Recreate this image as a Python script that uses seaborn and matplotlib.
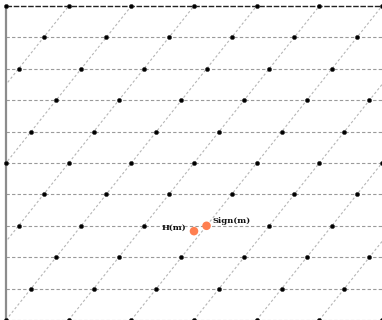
import numpy as np
import pandas as pd
import matplotlib
matplotlib.use("Agg")
import matplotlib.pyplot as plt
import seaborn as sns

# Lattice: horizontal rows at integer heights, each row shifted by a fixed offset
row_levels = list(range(0, 11))          # y of each lattice row
row_shift = 0.4                          # horizontal offset gained per row
column_index = list(range(-5, 8))        # integer steps along the rows
x_range = [0, 6]
y_range = [0, 10]

# Highlighted points
labels = ["H(m)", "Sign(m)"]
label_x = [3.0, 3.2]
label_y = [2.83, 3.0]

sns.set_theme(style="white")
plt.rcParams["font.family"] = ["DejaVu Serif", "DejaVu Sans"]

fig = plt.figure(figsize=(3.82, 3.20), dpi=100)
ax = fig.add_axes([6 / 382, 0, 376 / 382, 314 / 320])
ax.set_xlim(*x_range)
ax.set_ylim(*y_range)
ax.axis("off")

# Lattice points inside the view
pts = []
for y in row_levels:
    for k in column_index:
        x = k + (row_shift * y) % 1.0
        if x_range[0] - 1e-6 <= x <= x_range[1] + 0.02:
            pts.append((x, y))
lattice = pd.DataFrame(pts, columns=["x", "y"])

# Diagonal lines through the lattice points
yy = np.array(y_range, dtype=float)
for k in range(-5, 8):
    ax.plot(k + row_shift * yy, yy, color="#b5b5b5", lw=0.8,
            ls=(0, (2.2, 2.0)), zorder=1)

# Horizontal rows
for y in row_levels[:-1]:
    ax.plot(x_range, [y, y], color="#9a9a9a", lw=0.8,
            ls=(0, (3, 2)), zorder=2)
ax.plot(x_range, [y_range[1]] * 2, color="#222222", lw=1.0,
        ls=(0, (4, 1.2)), zorder=3, clip_on=False)

# Left boundary
ax.plot([0, 0], y_range, color="#8c8c8c", lw=1.6, zorder=3, clip_on=False)

sc = sns.scatterplot(data=lattice, x="x", y="y", ax=ax, color="black",
                     s=9, edgecolor="#333333", linewidth=0.4, zorder=4,
                     legend=False)
for coll in ax.collections:
    coll.set_clip_on(False)

special = pd.DataFrame({"x": label_x, "y": label_y, "label": labels})
sns.scatterplot(data=special, x="x", y="y", ax=ax, color="#ff7f50",
                s=38, edgecolor="none", zorder=5, legend=False)

ax.text(label_x[0] - 0.13, label_y[0] + 0.1, labels[0], ha="right",
        va="center", fontsize=6, fontweight="bold", color="#111111")
ax.text(label_x[1] + 0.1, label_y[1] + 0.15, labels[1], ha="left",
        va="center", fontsize=6, fontweight="bold", color="#111111")

fig.savefig("out.png", dpi=100)
